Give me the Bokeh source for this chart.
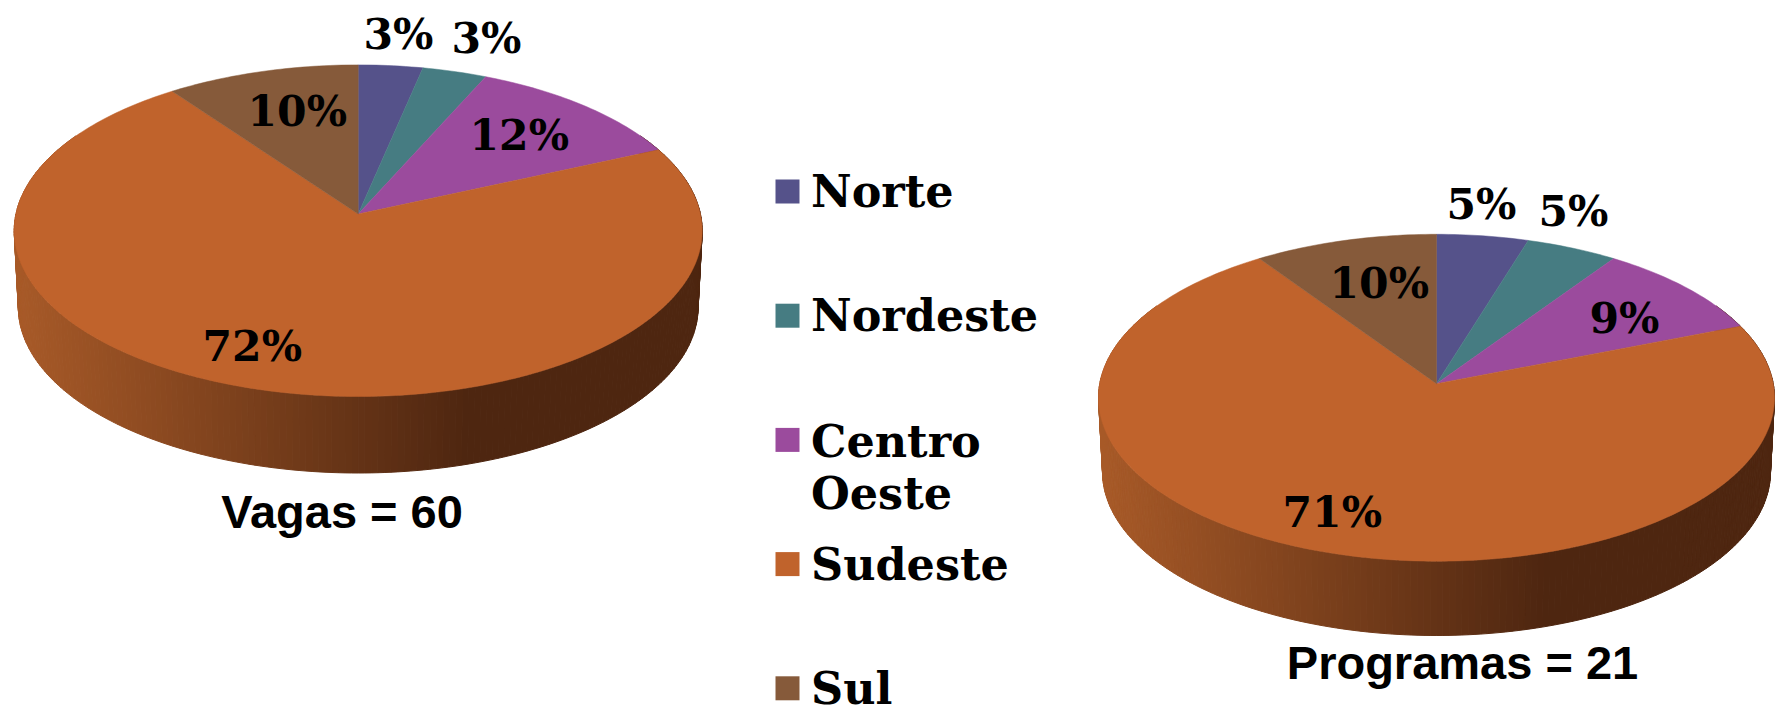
import numpy as np
from bokeh.core.properties import value
from bokeh.embed import file_html
from bokeh.models import Range1d
from bokeh.plotting import figure
from bokeh.resources import INLINE

# ---- data ----
regions = ["Norte", "Nordeste", "Centro\nOeste", "Sudeste", "Sul"]
vagas = [2, 2, 7, 43, 6]            # total 60
programas = [1, 1, 2, 15, 2]        # total 21
vagas_labels = ["3%", "3%", "12%", "72%", "10%"]
programas_labels = ["5%", "5%", "9%", "71%", "10%"]
vagas_title = "Vagas = 60"
programas_title = "Programas = 21"

# ---- style ----
colors = ["#55528A", "#467C82", "#9B4B9D", "#C0632C", "#865A3A"]
side_light = np.array([0xA8, 0x5A, 0x28])
side_dark = np.array([0x4E, 0x26, 0x10])
SERIF = value("DejaVu Serif")
SANS = value("Liberation Sans")

# ---- layout, in page pixels ----
W, H = 1781, 705
left_pie = dict(cx=357.7, apex=213.5, top=64.4, bottom=396.0, rx=344.0, depth=76.5)
right_pie = dict(cx=1436.0, apex=383.2, top=233.8, bottom=560.7, rx=338.0, depth=74.3)
left_label_pos = [(363, 51), (451, 55), (469, 152), (202, 363), (247, 128)]
right_label_pos = [(1446, 221), (1538, 228), (1589, 335), (1282, 529), (1329, 300)]
label_size = "42.5px"
legend_size = "44.5px"

p = figure(width=W, height=H, output_backend="svg", toolbar_location=None,
           x_range=Range1d(0, W), y_range=Range1d(H, 0),
           x_axis_type=None, y_axis_type=None, min_border=0,
           outline_line_color=None)
p.grid.visible = False


def draw_pie(counts, labels, label_pos, title, title_xy, g):
    up = g["apex"] - g["top"]
    down = g["bottom"] - g["apex"]
    a = (down - up) / (down + up)
    B = up * (1 + a)
    A = g["rx"] * np.sqrt(1 - a * a)

    def rim(theta, shift=0.0, shrink=1.0):
        X, Y = np.sin(theta), np.cos(theta)
        w = 1 + a * Y
        return g["cx"] + A * shrink * X / w, g["apex"] + shift - B * Y / w

    # side wall, painted behind the top face
    th = np.radians(np.arange(60.0, 300.5, 1.0))
    tx, ty = rim(th)
    bx, by = rim(th, g["depth"], 0.988)
    xmin, xmax = g["cx"] - g["rx"], g["cx"] + g["rx"]
    xs, ys, cs = [], [], []
    for i in range(len(th) - 1):
        xs.append([tx[i], tx[i + 1], bx[i + 1], bx[i]])
        ys.append([ty[i], ty[i + 1], by[i + 1], by[i]])
        u = min(1.0, max(0.0, ((tx[i] + tx[i + 1]) / 2 - xmin) / (xmax - xmin) / 0.66))
        c = side_light + (side_dark - side_light) * u
        cs.append("#%02x%02x%02x" % tuple(int(round(v)) for v in c))
    p.patches(xs, ys, fill_color=cs, line_color=cs, line_width=1)

    # top face
    shares = np.array(counts, dtype=float) / sum(counts)
    edges = np.concatenate([[0.0], np.cumsum(shares)]) * 2 * np.pi
    wx, wy = [], []
    for k in range(len(counts)):
        t = np.linspace(edges[k], edges[k + 1], max(4, int(shares[k] * 360)))
        rx_, ry_ = rim(t)
        wx.append(np.concatenate([[g["cx"]], rx_]).tolist())
        wy.append(np.concatenate([[g["apex"]], ry_]).tolist())
    p.patches(wx, wy, fill_color=colors, line_color=colors, line_width=0.5)

    p.text([q[0] for q in label_pos], [q[1] for q in label_pos], text=labels,
           text_font=SERIF, text_font_style="bold", text_font_size=label_size,
           text_color="#000000", text_align="left", text_baseline="alphabetic",
           y_offset=-18)
    p.text([title_xy[0]], [title_xy[1]], text=[title], text_font=SANS,
           text_font_style="bold", text_font_size="47px", text_color="#000000",
           text_align="center", text_baseline="alphabetic", y_offset=-16.5)


draw_pie(vagas, vagas_labels, left_label_pos, vagas_title, (341.5, 527), left_pie)
draw_pie(programas, programas_labels, right_label_pos, programas_title, (1462, 678), right_pie)

# ---- legend ----
leg_top, leg_step, leg_box = 179.0, 124.2, 24.0
leg_x, leg_text_x = 775.0, 810.5
line_step = 54.0
tx_, ty_, tt_ = [], [], []
for i, name in enumerate(regions):
    y0 = leg_top + i * leg_step
    for j, line in enumerate(name.split("\n")):
        tx_.append(leg_text_x)
        ty_.append(y0 + leg_box + 3.5 + j * line_step + (1.5 if j == 0 and "\n" in name else 0))
        tt_.append(line)
box_tops = [leg_top + i * leg_step for i in range(len(regions))]
p.quad(left=leg_x, right=leg_x + leg_box, top=box_tops,
       bottom=[b + leg_box for b in box_tops], fill_color=colors, line_color=None)
p.text(tx_, ty_, text=tt_, text_font=SERIF, text_font_style="bold",
       text_font_size=legend_size, text_color="#000000", text_align="left",
       text_baseline="alphabetic", y_offset=-16)

open("out.html", "w").write(file_html(p, INLINE))
